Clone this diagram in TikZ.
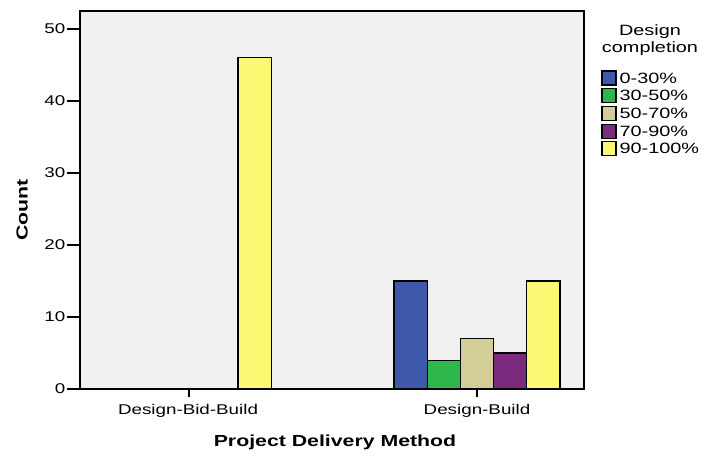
\documentclass[tikz,border=0pt]{standalone}
\usepackage{fontspec}
\setmainfont{Liberation Sans}[FakeStretch=1.33]
\usetikzlibrary{positioning}
\definecolor{plotbg}{HTML}{F0F0F0}
\definecolor{pctA}{HTML}{3E58AB}
\definecolor{pctB}{HTML}{2EB84B}
\definecolor{pctC}{HTML}{D3CE98}
\definecolor{pctD}{HTML}{7B2A7E}
\definecolor{pctE}{HTML}{FBF874}

\begin{document}
\begin{tikzpicture}[
    x=0.75pt, y=-0.75pt,
    font=\fontsize{10.6}{13}\selectfont,
    title/.style={
        font=\fontsize{12}{14}\selectfont\bfseries
    },
    legendtext/.style={
        font=\fontsize{11.2}{12.8}\selectfont
    },
    bar/.style={
        draw=black,
        line width=0.9pt,
        fill=#1
    },
    axistick/.style={
        line width=1.1pt
    },
    swatch/.style={
        draw=black,
        line width=0.8pt,
        fill=#1
    }
]
\useasboundingbox (0,0) rectangle (705,457);
% Plot area
\fill[plotbg] (80,11) rectangle (584,389);
% Design-Bid-Build: only 90-100%
\draw[bar=pctE] (238,389) rectangle (271.2,{389-7.2*46});
% Design-Build: one bar for each completion band
\foreach \i/\v/\c in {0/15/pctA, 1/4/pctB, 2/7/pctC, 3/5/pctD, 4/15/pctE} {
    \draw[bar=\c] ({394+33.2*\i},389) rectangle ({394+33.2*(\i+1)},{389-7.2*\v});
}
% Frame
\draw[line width=1pt] (80,11) rectangle (584,389);
% Count axis
\foreach \v in {0,10,...,50} {
    \draw[axistick] (67,{389-7.2*\v}) -- (80,{389-7.2*\v});
    \node[anchor=east, inner sep=1pt] (ylab\v) at (67,{389-7.2*\v}) {\v};
}
\node[title, rotate=90] (ytitle) at (22,210) {Count};
% Delivery method axis
\draw[axistick] (189,389) -- (189,397);
\draw[axistick] (477,389) -- (477,397);
\node (dbb) at (188,411) {Design-Bid-Build};
\node (db) at (477,411) {Design-Build};
\node[title] (xtitle) at (335,442) {Project Delivery Method};
% Legend
\node[legendtext, align=center] (legtitle) at (650,40) {Design\\completion};
\foreach \k/\c/\lbl in {0/pctA/0-30\%, 1/pctB/30-50\%, 2/pctC/50-70\%, 3/pctD/70-90\%, 4/pctE/90-100\%} {
    \draw[swatch=\c] (602,{71+17.7*\k}) rectangle (616,{85+17.7*\k});
    \node[legendtext, anchor=west, inner sep=1pt] (leg\k) at (618,{78+17.7*\k}) {\lbl};
}
\end{tikzpicture}
\end{document}
